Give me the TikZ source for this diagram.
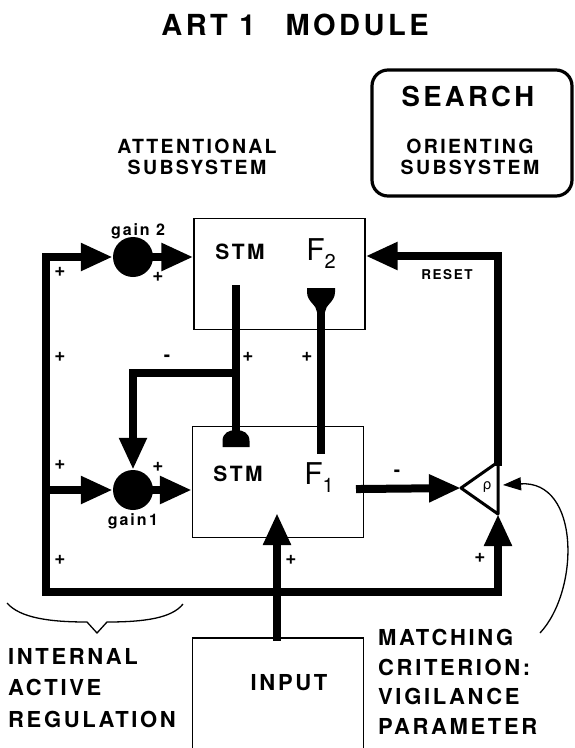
\documentclass[tikz,border=0pt]{standalone}
\usepackage{fontspec}
\setmainfont{TeX Gyre Heros}
\newfontfamily\hv{TeX Gyre Heros}[LetterSpace=12]
\newfontfamily\grk{DejaVu Sans}
\usetikzlibrary{arrows.meta}
\tikzset{
  >={Triangle[length=32pt,width=26pt]},
  wire/.style={line width=8pt,line cap=rect},
  thin wire/.style={line width=1.3pt},
  unit/.style={draw,line width=1.2pt,inner sep=0,minimum width=171pt,minimum height=111pt},
  gain/.style={circle,fill,inner sep=0,minimum size=40pt},
  head/.style={font=\hv\bfseries\fontsize{29}{34}\selectfont,inner sep=0},
  tag/.style={font=\hv\bfseries\fontsize{19.5}{20.5}\selectfont,inner sep=0,align=center},
  note/.style={font=\hv\bfseries\fontsize{22}{#1}\selectfont,inner sep=0,align=left},
  note/.default=30,
  stm/.style={font=\hv\bfseries\fontsize{21}{21}\selectfont,inner sep=0},
  small/.style={font=\hv\bfseries\fontsize{#1}{#1}\selectfont,inner sep=0},
  sign/.style={font=\bfseries\fontsize{19}{19}\selectfont,inner sep=0},
  pics/dome/.style={code={
    \fill (-13.5,0) -- (-13.5,-6) .. controls (-13.5,-14) and (-7,-17) .. (0,-17)
      .. controls (7,-17) and (13.5,-14) .. (13.5,-6) -- (13.5,0) -- cycle;
  }},
  pics/cup/.style={code={
    \fill (-14,0) -- (14,0) -- (14,4) .. controls (14,14) and (4,17) .. (4,24)
      -- (-4,24) .. controls (-4,17) and (-14,14) .. (-14,4) -- cycle;
  }},
}
\begin{document}
\begin{tikzpicture}[x=1pt,y=-1pt]
  \useasboundingbox (0,0) rectangle (575,748);
  % titles
  \node[head] (title) at (295,25) {ART 1\hspace{30pt}MODULE};
  \node[draw,line width=3.2pt,rounded corners=16pt,minimum width=200pt,minimum height=126pt] (search) at (472,133) {};
  \node[small=27.5] (searchlab) at (468,96) {SEARCH};
  \node[tag] (orient) at (470,157) {ORIENTING\\SUBSYSTEM};
  \node[tag] (attn) at (197,157) {ATTENTIONAL\\SUBSYSTEM};
  % fields
  \node[unit] (f2) at (279.5,274) {};
  \node[unit] (f1) at (278,482) {};
  \node[unit,minimum height=160pt] (input) at (278,718) {};
  \node[stm] (stm2) at (240,252) {STM};
  \node[stm] (stm1) at (238,474) {STM};
  \node[font=\fontsize{30}{30}\selectfont,inner sep=0] (f2lab) at (321,254) {F\raisebox{-8pt}{\fontsize{20}{20}\selectfont 2}};
  \node[font=\fontsize{30}{30}\selectfont,inner sep=0] (f1lab) at (319,478) {F\raisebox{-8pt}{\fontsize{20}{20}\selectfont 1}};
  \node[note] (inputlab) at (289,683) {INPUT};
  % gain control
  \node[gain] (g2) at (133,257) {};
  \node[gain] (g1) at (133,490) {};
  \node[small=16] (g2lab) at (138,231) {gain 2};
  \node[small=16] (g1lab) at (133,521) {gain\,1};
  % orienting node
  \coordinate (rhol) at (461,488);
  \coordinate (rhot) at (498,462);
  \coordinate (rhob) at (498,514);
  \coordinate (rhor) at (503,485);
  \draw[line width=3pt,line join=round] (rhol) -- (rhot) -- (rhob) -- cycle;
  \node[font=\grk\fontsize{14}{14}\selectfont,inner sep=0] (rho) at (487,487) {ρ};
  % pathways
  \coordinate (lt) at (46,257);
  \coordinate (l1) at (46,490);
  \coordinate (lb) at (46,592);
  \coordinate (rb) at (498,592);
  \coordinate (rc) at (498,256);
  \coordinate (s2) at (236,289);
  \coordinate (s1) at (236,440);
  \coordinate (br) at (236,373);
  \coordinate (u1) at (321,450);
  \coordinate (u2) at (321,305);
  \coordinate (f1out) at (360,489);
  \coordinate (ip) at (277,513);
  \draw[wire,->] (lb) -- (lt) -- (g2);
  \draw[wire,->] (g2) -- (f2.west |- g2);
  \draw[wire,->] (l1) -- (g1);
  \draw[wire,->] (g1) -- (f1.west |- g1);
  \draw[wire,->] (lb) -- (rb) -- (rhob);
  \draw[wire,->] (input.north -| ip) -- (ip);
  \draw[wire] (s2) -- (s1);
  \pic at (236,447) {dome};
  \draw[wire,->] (br) -- (br -| g1) -- (g1);
  \draw[wire] (u1) -- (u2);
  \pic at (321,288) {cup};
  \draw[wire,->] (f1out) -- (rhol);
  \draw[wire,->] (rhot) -- (rc) -- (rc -| f2.east);
  \node[small=13.5] (reset) at (447,275) {RESET};
  % vigilance
  \coordinate (vig) at (540,633);
  \draw[thin wire,-{Triangle[length=18pt,width=13pt]}] (vig) .. controls (580,590) and (580,480) .. (rhor);
  \draw[thin wire] (7,603) .. controls (20,618) and (50,622) .. (87,622) -- (97,633) -- (107,622)
    .. controls (145,622) and (172,618) .. (183,604);
  % signs
  \foreach \p in {(60,272),(158,277),(60,357),(248,357),(307,357),(60,465),(158,467),(60,560),(291,560),(480,558)}
    \node[sign] at \p {+};
  \node[sign] (m1) at (167,358) {-};
  \node[sign] (m2) at (397,473) {-};
  % labels
  \node[note=31.5,anchor=west] (ial) at (8,688) {INTERNAL\\ACTIVE\\REGULATION};
  \node[note=29.5,anchor=west] (mcl) at (378,682) {MATCHING\\CRITERION:\\VIGILANCE\\PARAMETER};
\end{tikzpicture}
\end{document}
